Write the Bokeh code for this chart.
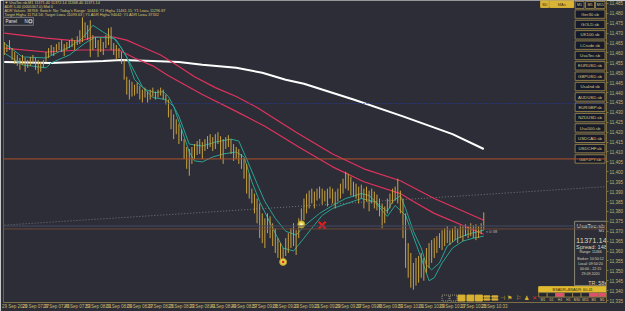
from bokeh.plotting import figure
from bokeh.models import Range1d, FixedTicker, NumeralTickFormatter, Span, Label, ColumnDataSource
from bokeh.core.properties import value
from bokeh.embed import file_html
from bokeh.resources import INLINE

# ---------------- data ----------------
symbol = "UsaTec.sb"
timeframe = "M1"
bid = 11371.14
spread_points = 148

bar_high = [
    11465.5, 11464, 11466.5, 11462.5, 11460.5, 11459, 11457.5, 11459, 11457.5, 11456.5,
    11458, 11459, 11457.5, 11456.5, 11455.5, 11456.5, 11460.5, 11462.5, 11464, 11463,
    11464.5, 11465.5, 11466.5, 11464.5, 11465.5, 11466.5, 11467.5, 11466.5, 11468.5, 11471.5,
    11478, 11475.5, 11474, 11476.5, 11469, 11468, 11466.5, 11467.5, 11465.5, 11469,
    11472.5, 11473, 11465, 11464, 11462.5, 11460.5, 11456.5, 11448, 11446.5, 11445.5,
    11444, 11445, 11443.5, 11441.5, 11442.5, 11440.5, 11441.5, 11442.5, 11440.5, 11441.5,
    11442.5, 11441.5, 11439, 11436.5, 11431.5, 11429, 11426.5, 11424, 11421.5, 11416.5,
    11412.5, 11411.5, 11412.5, 11414, 11415.5, 11416.5, 11415, 11416.5, 11418, 11419,
    11417.5, 11419, 11420, 11418, 11416.5, 11417.5, 11418.5, 11416.5, 11414, 11412.5,
    11411.5, 11409, 11406.5, 11404, 11399, 11391.5, 11389, 11386.5, 11384, 11379,
    11376.5, 11379, 11377.5, 11374, 11371.5, 11366.5, 11364, 11361.5, 11366.5, 11369,
    11371.5, 11374, 11370.5, 11376.5, 11381.5, 11386.5, 11389, 11390.5, 11391.5, 11390,
    11391.5, 11392.5, 11391.5, 11390.5, 11391.5, 11392.5, 11391.5, 11390, 11391.5, 11394,
    11396.5, 11400, 11399, 11397.5, 11395, 11394, 11392.5, 11393.5, 11391.5, 11392.5,
    11390.5, 11391.5, 11390, 11388.5, 11386.5, 11384, 11382.5, 11386.5, 11389, 11391.5,
    11392.5, 11396.5, 11390.5, 11386.5, 11379, 11364, 11359, 11354, 11356.5, 11357.5,
    11359, 11356.5, 11361.5, 11364, 11365.5, 11366.5, 11367.5, 11369, 11370.5, 11371.5,
    11372.5, 11370.5, 11371.5, 11372.5, 11371.5, 11373, 11372.5, 11373.5, 11372.5, 11374,
    11373, 11373.5, 11372.5, 11374, 11379.5,
]
bar_low = [
    11459, 11460.5, 11461.5, 11456.5, 11454.5, 11453.5, 11451.5, 11454, 11450.5, 11452.5,
    11453.5, 11455, 11451.5, 11449.5, 11450.5, 11452.5, 11455.5, 11457.5, 11459, 11458.5,
    11460.5, 11461.5, 11460.5, 11458.5, 11461.5, 11462.5, 11463, 11461.5, 11464, 11464.5,
    11465.5, 11467.5, 11466.5, 11458, 11461.5, 11462.5, 11458, 11460.5, 11459, 11462.5,
    11464, 11461.5, 11459, 11456.5, 11457.5, 11454.5, 11446.5, 11439, 11436.5, 11438,
    11438.5, 11439.5, 11436.5, 11435, 11437.5, 11435, 11436.5, 11438, 11436.5, 11437.5,
    11438.5, 11436.5, 11434, 11427.5, 11421.5, 11416.5, 11419, 11414, 11415.5, 11406.5,
    11401.5, 11398, 11404, 11406.5, 11408.5, 11409, 11406.5, 11410.5, 11411.5, 11412.5,
    11410.5, 11411.5, 11414, 11406.5, 11404, 11411.5, 11412.5, 11409, 11405.5, 11406.5,
    11404, 11401.5, 11396.5, 11389, 11386.5, 11384, 11379, 11374, 11366.5, 11364,
    11361.5, 11369, 11366.5, 11362.5, 11359, 11356.5, 11355.5, 11353.5, 11357.5, 11359,
    11361.5, 11362.5, 11358, 11366.5, 11371.5, 11375.5, 11379, 11381.5, 11384, 11381.5,
    11385.5, 11386.5, 11383.5, 11385, 11382.5, 11386.5, 11384, 11381.5, 11385, 11386.5,
    11389, 11391.5, 11390.5, 11388, 11387.5, 11386.5, 11384, 11386.5, 11381.5, 11385,
    11380, 11384, 11381.5, 11380.5, 11377.5, 11371.5, 11374, 11379, 11381.5, 11384,
    11385.5, 11384, 11379, 11366.5, 11351.5, 11346.5, 11341.5, 11340.5, 11342.5, 11344,
    11346.5, 11345, 11349, 11351.5, 11354, 11356.5, 11359, 11361.5, 11360.5, 11362.5,
    11364, 11363, 11364.5, 11365.5, 11364, 11366.5, 11365, 11367.5, 11366.5, 11367.5,
    11366.5, 11365.5, 11366.5, 11368.5, 11370.5,
]
bar_index = list(range(len(bar_high)))

time_tick_bars = [0, 8, 16, 24, 32, 40, 48, 56, 64, 72, 80, 88, 96, 104, 112, 120,
                  128, 136, 144, 152, 160, 168, 176, 184]
time_tick_labels = ["29 Sep 2020", "29 Sep 07:37", "29 Sep 07:45", "29 Sep 07:53",
                    "29 Sep 08:01", "29 Sep 08:09", "29 Sep 08:17", "29 Sep 08:25",
                    "29 Sep 08:33", "29 Sep 08:41", "29 Sep 08:49", "29 Sep 08:57",
                    "29 Sep 09:05", "29 Sep 09:13", "29 Sep 09:21", "29 Sep 09:29",
                    "29 Sep 09:37", "29 Sep 09:45", "29 Sep 09:53", "29 Sep 10:01",
                    "29 Sep 10:09", "29 Sep 10:17", "29 Sep 10:25", "29 Sep 10:33"]
price_ticks = [11485, 11480, 11475, 11470, 11465, 11460, 11455, 11450, 11445, 11440,
               11435, 11430, 11425, 11420, 11415, 11410, 11405, 11400, 11395, 11390,
               11385, 11380, 11375, 11370, 11365, 11360, 11355, 11350, 11345, 11340, 11335]

ma_white_idx = [0, 18, 38, 45, 57, 67, 76, 89, 99, 108, 115, 134, 153, 172, 184]
ma_white_val = [11455.5, 11455, 11456, 11456.5, 11456, 11455.5, 11454, 11452.5, 11450,
                11446.5, 11444.5, 11436.5, 11428, 11419, 11411.5]

red_slow_idx = [0, 16, 29, 34, 42, 47, 53, 60, 66, 73, 81, 89, 97, 112, 126, 138, 152, 165, 184]
red_slow_val = [11470, 11467.5, 11466, 11468, 11468, 11466.5, 11463, 11459, 11454, 11448,
                11442.5, 11438, 11432.5, 11420, 11409, 11401.5, 11395.5, 11386.5, 11375.5]

red_fast_idx = [0, 16, 29, 44, 50, 57, 63, 76, 89, 100, 113, 126, 138, 152, 157, 165, 184]
red_fast_val = [11462.5, 11460.5, 11461.5, 11461.5, 11457.5, 11453.5, 11448.5, 11439,
                11430.5, 11423, 11412.5, 11402.5, 11395, 11389, 11385, 11379, 11368.5]

teal_a_idx = [0, 7, 16, 25, 30, 34, 38, 43, 47, 50, 54, 58, 61, 63, 67, 71, 76, 81, 87, 90,
              93, 97, 100, 104, 108, 112, 115, 121, 126, 131, 137, 140, 144, 147, 149, 152,
              154, 157, 160, 162, 164, 167, 170, 174, 178, 184]
teal_a_val = [11465, 11458, 11457.5, 11463, 11467.5, 11474, 11470.5, 11466.5, 11458, 11446.5,
              11441.5, 11440, 11440.5, 11438, 11428, 11414, 11413, 11415, 11416.5, 11415.5,
              11406.5, 11394, 11385, 11376.5, 11370, 11368, 11372.5, 11379, 11383, 11386.5,
              11389, 11388, 11383, 11380, 11385, 11388, 11381.5, 11370, 11361.5, 11353,
              11350.5, 11354, 11362.5, 11366.5, 11368.5, 11370.5]

teal_b_idx = [0, 7, 16, 18, 25, 31, 35, 42, 45, 49, 53, 57, 62, 65, 68, 71, 73, 76, 80, 84,
              89, 92, 95, 98, 103, 107, 111, 115, 118, 122, 126, 137, 142, 147, 150, 154,
              160, 163, 165, 168, 172, 176, 180, 184]
teal_b_val = [11460, 11454, 11452.5, 11455, 11459, 11465, 11468, 11467.5, 11462.5, 11453,
              11443, 11437.5, 11436.5, 11433, 11421.5, 11410, 11405.5, 11405, 11407.5, 11409,
              11410, 11407.5, 11395, 11385, 11371.5, 11361.5, 11360, 11366.5, 11371.5, 11378,
              11381.5, 11386.5, 11385, 11377.5, 11383, 11378, 11356.5, 11345, 11346.5, 11354,
              11361.5, 11365, 11366.5, 11367.5]

level_blue = 11434.5
level_orange = 11406.5
trend_idx = [-1, 231]
trend_val = [11373.0, 11392.5]

signal_idx = [107, 114]
signal_price = [11354.5, 11373.5]
cross_idx = [122]
cross_price = [11373.0]

symbol_buttons = ["Ger30.sb", "GOLD.sb", "UK100.sb", "LCrude.sb", "UsaTec.sb", "EURUSD.sb",
                  "GBPUSD.sb", "UsaInd.sb", "AUDUSD.sb", "EURGBP.sb", "NZDUSD.sb",
                  "Usa500.sb", "USDCAD.sb", "USDCHF.sb", "GBPJPY.sb"]
tf_cells = ["W1", "D1", "H4", "H1", "M30", "M15", "M5", "M1"]
tf_state = [0, 0, 1, 0, 0, 0, 1, 1]

header_lines = [
    "\u25bc UsaTec.sb,M1  11371.40 11372.14 11368.40 11371.14",
    "ADR 5.00 (0005307.0) Mid 0",
    "ADR Values: 38768; Switch: No; Today's Range: 10444; Y1 High= 11461.15; Y1 Low= 11296.87",
    "Target High= 11754.56; Target Low= 11093.63 | Y1 ADR High= 94042; Y1 ADR Low= 37332",
]

# ---------------- layout ----------------
BG = "#2c2d37"
GOLD = "#c9a23e"
OLIVE = "#7d6f45"
BTN_FILL = "#171a2b"
BTN_LINE = "#8c7b45"
BTN_TEXT = "#dccb7e"
FONT = "Liberation Sans"

W, H = 625, 311
FL, FR, FT, FB = 3, 608, 0, 305
XR = (-0.3, 231.1)
YR = (11334.0, 11486.5)


def X(px):
    return XR[0] + (px - FL) * (XR[1] - XR[0]) / (FR - FL)


def Y(py):
    return YR[1] - (py - FT) * (YR[1] - YR[0]) / (FB - FT)


p = figure(width=W, height=H, output_backend="svg", toolbar_location=None,
           x_range=Range1d(*XR), y_range=Range1d(*YR),
           y_axis_location="right",
           min_border_left=FL, min_border_right=W - FR, min_border_top=FT,
           min_border_bottom=H - FB,
           background_fill_color=BG, border_fill_color=BG, outline_line_color=None)
p.grid.visible = False

xa = p.xaxis[0]
xa.ticker = FixedTicker(ticks=[t + 4 for t in time_tick_bars])
xa.major_label_overrides = {t + 4: lab for t, lab in zip(time_tick_bars, time_tick_labels)}
xa.axis_line_color = OLIVE
xa.major_tick_line_color = None
xa.minor_tick_line_color = None
xa.major_tick_out = 0
xa.major_tick_in = 0
xa.major_label_standoff = 1
xa.major_label_text_font_size = "4.5px"
xa.major_label_text_color = "#c8b468"
xa.major_label_text_font = FONT

ya = p.yaxis[0]
ya.ticker = FixedTicker(ticks=price_ticks)
ya.formatter = NumeralTickFormatter(format="0,0")
ya.axis_line_color = OLIVE
ya.major_tick_line_color = OLIVE
ya.minor_tick_line_color = None
ya.major_tick_out = 2
ya.major_tick_in = 0
ya.major_label_standoff = 1
ya.major_label_text_font_size = "4.5px"
ya.major_label_text_color = "#c8b468"
ya.major_label_text_font = FONT

# left border
p.add_layout(Span(location=X(2), dimension="height", line_color=OLIVE, line_width=2))

# horizontal levels
p.add_layout(Span(location=level_blue, dimension="width", line_color="#2a3cb0",
                  line_width=1, line_dash="1 2"))
p.add_layout(Span(location=level_orange, dimension="width", line_color="#b0502c", line_width=1))
p.add_layout(Span(location=bid + spread_points / 100.0, dimension="width",
                  line_color="#474b62", line_width=1))
p.add_layout(Span(location=bid, dimension="width", line_color="#6b4a36", line_width=1))
p.line(trend_idx, trend_val, line_color="#76767a", line_width=1, line_dash="1 2")

# indicator lines
p.line(ma_white_idx, ma_white_val, line_color="#ffffff", line_width=2)
p.line(red_slow_idx, red_slow_val, line_color="#e1325c", line_width=1.2)
p.line(red_fast_idx, red_fast_val, line_color="#e1325c", line_width=1.2)
p.line(teal_a_idx, teal_a_val, line_color="#2aa393", line_width=1)
p.line(teal_b_idx, teal_b_val, line_color="#2aa393", line_width=1)

# price bars
p.segment(x0=bar_index, y0=bar_low, x1=bar_index, y1=bar_high, line_color=GOLD, line_width=1)

# signals
p.scatter(signal_idx, signal_price, size=7, fill_color="#e6cf45", line_color="#b09a30")
p.scatter(signal_idx[:1], signal_price[:1], size=2.5, fill_color="#e02020", line_color=None)
p.scatter(signal_idx[1:], signal_price[1:], size=2.5, fill_color="#fff6c0", line_color=None)
p.scatter(cross_idx, cross_price, marker="x", size=10, line_color="#e41c1c", line_width=2.2)

# ---------------- UI overlay ----------------
quads = dict(left=[], right=[], top=[], bottom=[], fill=[], line=[])
texts = dict(x=[], y=[], text=[], color=[], size=[], align=[], style=[])


def box(x0, x1, y0, y1, fill, line):
    quads["left"].append(X(x0)); quads["right"].append(X(x1))
    quads["top"].append(Y(y0)); quads["bottom"].append(Y(y1))
    quads["fill"].append(fill); quads["line"].append(line)


def txt(x, y, s, color, size, align="center", style="normal"):
    texts["x"].append(X(x)); texts["y"].append(Y(y)); texts["text"].append(s)
    texts["color"].append(color); texts["size"].append(size)
    texts["align"].append(align); texts["style"].append(style)


# header text
for k, s in enumerate(header_lines):
    txt(4, 2.2 + 4.2 * k, s, "#d8c870", "3.8px", "left")
box(3, 33, 17, 25, BG, "#77777a")
txt(5, 21, "Panel", "#e0e0e0", "4.5px", "left")
txt(24, 21, "N", "#e0e0e0", "4.5px", "left")
box(28.5, 31.5, 19.5, 22.5, BG, "#d0d0d0")

# top right buttons
box(542, 550, 0, 7, "#d9b437", "#d9b437")
txt(546, 3.6, "SD", "#3a3010", "4px")
box(551, 575, 0, 7, "#d9b437", "#d9b437")
txt(563, 3.6, "MAs", "#3a3010", "4px")
for lab, (a, b) in zip(["M1", "M5", "M15"], [(576.5, 585.5), (587, 596), (597, 606.5)]):
    box(a, b, 1, 8, BTN_FILL, BTN_LINE)
    txt((a + b) / 2, 4.6, lab, BTN_TEXT, "3.6px")

for k, s in enumerate(symbol_buttons):
    top = 9.5 + 10.45 * k
    box(576.5, 606.5, top, top + 8.5, BTN_FILL, BTN_LINE)
    txt(591.5, top + 4.4, s, BTN_TEXT, "4.3px")

# info panel
box(576, 608, 223, 288, BG, "#8a8676")
INFO = "#ddd6b8"
txt(578, 227.5, symbol, INFO, "6px", "left")
txt(603, 232.5, timeframe, INFO, "4px")
txt(577.5, 242.5, "11371.14", INFO, "7.5px", "left")
txt(577.5, 248.8, "Spread: %d" % spread_points, INFO, "5.7px", "left")
txt(592, 254.2, "Range: 11466", INFO, "3.6px")
txt(592, 261, "Broker: 10:50:12", INFO, "3.6px")
txt(592, 266, "Local: 09:50:20", INFO, "3.6px")
txt(592, 271, "00:00 - 22:15", INFO, "3.6px")
txt(592, 276, "29.09.2020", INFO, "3.6px")
txt(599, 285, "TR: 58s", INFO, "5.3px")
p.segment(x0=[X(577)] * 3, x1=[X(607)] * 3, y0=[Y(236), Y(257), Y(280)],
          y1=[Y(236), Y(257), Y(280)], line_color="#6c6a60", line_width=1)

# bottom status bar
box(540, 608, 289, 295, "#e0bb30", "#e0bb30")
txt(574, 292.2, "BSADR+BSADR: 60.41", "#2a2208", "3.8px")
for k, (lab, st) in enumerate(zip(tf_cells, tf_state)):
    a = 540 + 8.5 * k
    box(a, a + 8.5, 295, 299.5, "#e0506e" if st else "#23252f", BTN_LINE)
    txt(a + 4.25, 302, lab, BTN_TEXT, "3.2px")

# bottom tool icons
p.quad(left=[X(443), X(451)], right=[X(450), X(458)], top=[Y(297.5)] * 2,
       bottom=[Y(303.5)] * 2, fill_color=None, line_color="#a09a80", line_dash="1 1")
for a in (459, 468, 476.5):
    box(a, a + 7, 297.5, 303.5, "#d8b032", "#d8b032")
for a in (485, 493):
    box(a, a + 6, 298.3, 299.6, "#d8b032", "#d8b032")
    box(a, a + 6, 301.3, 302.6, "#d8b032", "#d8b032")
txt(503.5, 300.5, "\u22a3", "#d8b032", "6px")
txt(511, 300.5, "\u2691", "#d8b032", "6px")
txt(520, 300.5, "\u2690", "#d8b032", "6px")
txt(528, 300.5, "\u265f", "#d8b032", "6px")
txt(536, 300.5, "\u2715", "#e02828", "6px")

txt(487, 233, "< 0:38", "#b8b8b8", "4px", "left")

qsrc = ColumnDataSource(quads)
p.quad(left="left", right="right", top="top", bottom="bottom", source=qsrc,
       fill_color="fill", line_color="line", line_width=1)
tsrc = ColumnDataSource(texts)
p.text(x="x", y="y", text="text", source=tsrc, text_color="color", text_font_size="size",
       text_align="align", text_baseline="middle", text_font_style="style",
       text_font=value(FONT))

# current price tag on the price scale
p.add_layout(Label(x=XR[1], y=bid, text="11371.14", x_offset=1, text_font_size="4.5px",
                   text_color="#111111", text_baseline="middle", text_font=FONT,
                   background_fill_color="#e6c23a"))

open("out.html", "w").write(file_html(p, INLINE))
